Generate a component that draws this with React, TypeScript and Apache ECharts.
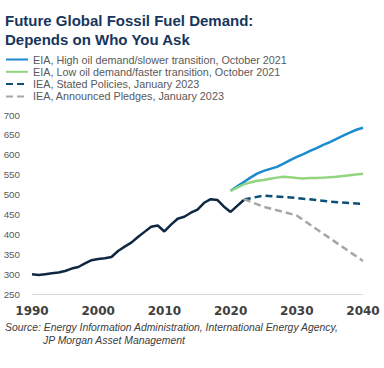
import React, { useEffect, useRef } from "react";
import * as echarts from "echarts";

const historyYears = [1990,1991,1992,1993,1994,1995,1996,1997,1998,1999,2000,2001,2002,2003,2004,2005,2006,2007,2008,2009,2010,2011,2012,2013,2014,2015,2016,2017,2018,2019,2020,2021,2022];
const historyValues = [301,299,301,303,305,309,315,319,328,336,339,341,344,359,370,380,394,407,420,423,408,425,440,445,455,463,480,489,487,470,457,472,487];

const eiaYears = [2020,2021,2022,2023,2024,2025,2026,2027,2028,2029,2030,2031,2032,2033,2034,2035,2036,2037,2038,2039,2040];
const eiaHighValues = [510,521,532,543,553,560,565,570,578,587,595,602,610,617,625,632,640,648,656,663,668];
const eiaLowValues = [510,518,526,531,535,537,540,543,545,544,542,541,542,542,543,544,545,547,549,551,553];

const ieaYears = [2022,2025,2030,2035,2040];
const ieaStatedValues = [488,498,492,483,477];
const ieaPledgesValues = [489,470,448,391,334];

const xTicks = [1990, 2000, 2010, 2020, 2030, 2040];

const seriesNames = [
  "EIA, High oil demand/slower transition, October 2021",
  "EIA, Low oil demand/faster transition, October 2021",
  "IEA, Stated Policies, January 2023",
  "IEA, Announced Pledges, January 2023",
];

const zip = (xs: number[], ys: number[]) => xs.map((x, i) => [x, ys[i]]);

export default function App() {
  const ref = useRef<HTMLDivElement>(null);
  useEffect(() => {
    if (!ref.current) return;
    const chart = echarts.init(ref.current, undefined, { renderer: "svg" });
    const lineBase = { type: "line", symbol: "none", showSymbol: false, smooth: false };
    chart.setOption({
      animation: false,
      backgroundColor: "#ffffff",
      title: {
        text: "Future Global Fossil Fuel Demand:\nDepends on Who You Ask",
        left: 5,
        top: 11,
        padding: 0,
        textStyle: {
          fontFamily: "Liberation Sans",
          fontWeight: "bold",
          fontSize: 15,
          lineHeight: 19,
          color: "#17365d",
        },
      },
      legend: {
        orient: "vertical",
        left: 5,
        top: 54,
        padding: 0,
        itemWidth: 22,
        itemHeight: 10,
        itemGap: 1.3,
        data: seriesNames,
        itemStyle: { opacity: 0 },
        textStyle: { fontFamily: "Liberation Sans", fontSize: 10.8, color: "#595959" },
      },
      graphic: [
        {
          type: "text",
          left: 5,
          top: 322,
          style: {
            text: "Source: Energy Information Administration, International Energy Agency,",
            font: "italic 10.4px 'Liberation Sans'",
            fill: "#404040",
          },
        },
        {
          type: "text",
          left: 43,
          top: 335,
          style: {
            text: "JP Morgan Asset Management",
            font: "italic 10.4px 'Liberation Sans'",
            fill: "#404040",
          },
        },
      ],
      grid: { left: 32, right: 21, top: 115, bottom: 73.5, containLabel: false },
      xAxis: {
        type: "value",
        min: 1990,
        max: 2040,
        interval: 10,
        axisLine: { show: true, lineStyle: { color: "#d9d9d9", width: 1 } },
        axisTick: { show: false },
        splitLine: { show: false },
        axisLabel: {
          margin: 10,
          fontFamily: "DejaVu Sans",
          fontWeight: "bold",
          fontSize: 12,
          color: "#404040",
          formatter: (v: number) => (xTicks.includes(v) ? String(v) : ""),
        },
      },
      yAxis: {
        type: "value",
        min: 250,
        max: 700,
        interval: 50,
        axisLine: { show: false },
        axisTick: { show: false },
        splitLine: { show: false },
        axisLabel: {
          margin: 12,
          fontFamily: "Liberation Sans",
          fontSize: 9.8,
          color: "#595959",
        },
      },
      series: [
        {
          ...lineBase,
          name: "History",
          data: zip(historyYears, historyValues),
          lineStyle: { color: "#0e2841", width: 2.5 },
          itemStyle: { color: "#0e2841" },
        },
        {
          ...lineBase,
          name: seriesNames[0],
          data: zip(eiaYears, eiaHighValues),
          lineStyle: { color: "#1a8bcf", width: 2.5 },
          itemStyle: { color: "#1a8bcf" },
        },
        {
          ...lineBase,
          name: seriesNames[1],
          data: zip(eiaYears, eiaLowValues),
          lineStyle: { color: "#92d57e", width: 2.5 },
          itemStyle: { color: "#92d57e" },
        },
        {
          ...lineBase,
          name: seriesNames[2],
          data: zip(ieaYears, ieaStatedValues),
          lineStyle: { color: "#0d4f75", width: 2.5, type: [7, 4] },
          itemStyle: { color: "#0d4f75" },
        },
        {
          ...lineBase,
          name: seriesNames[3],
          data: zip(ieaYears, ieaPledgesValues),
          lineStyle: { color: "#a6a6a6", width: 2.5, type: [7, 4] },
          itemStyle: { color: "#a6a6a6" },
        },
      ],
    });
    return () => chart.dispose();
  }, []);
  return <div ref={ref} style={{ width: 384, height: 368, position: "absolute", left: 0, top: 0 }} />;
}
